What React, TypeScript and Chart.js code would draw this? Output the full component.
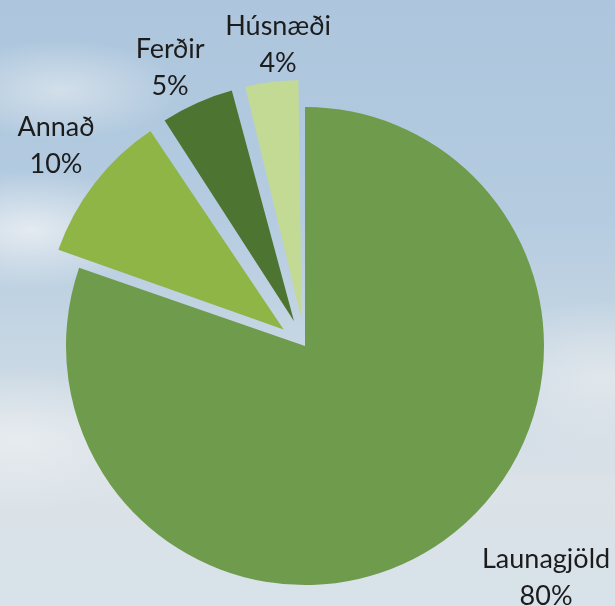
import React, { useEffect, useRef } from "react";
import { Chart, registerables } from "chart.js";

Chart.register(...registerables);

const categories = ["Launagjöld", "Annað", "Ferðir", "Húsnæði"];
const shares = [80.3, 10.4, 5.3, 4.0];
const shareLabels = ["80%", "10%", "5%", "4%"];
const sliceColors = ["#6e9b4c", "#8fb547", "#4e7432", "#c3da95"];
const explodePx = [0, 27, 27, 27];

const PIE_RADIUS = 239;

// label placement relative to the pie centre: [degrees clockwise from top, distance]
const labelPlacement = [
  [133.8, 334],
  [-51.1, 320],
  [-25.8, 310],
  [-5.1, 303],
];

const radiusFixPlugin = {
  id: "radiusFix",
  beforeDatasetsDraw(chart: any) {
    const meta = chart.getDatasetMeta(0);
    meta.data.forEach((arc: any) => {
      const off = (arc.options.offset || 0) / 4;
      const circ = arc.endAngle - arc.startAngle;
      const fix = 1 - Math.sin(Math.min(Math.PI, circ));
      arc.outerRadius = PIE_RADIUS - off * fix;
    });
  },
};

const labelPlugin = {
  id: "sliceLabels",
  afterDatasetsDraw(chart: any) {
    const ctx = chart.ctx;
    const meta = chart.getDatasetMeta(0);
    const base = meta.data[0];
    ctx.save();
    ctx.fillStyle = "#1c1c1c";
    ctx.font = "27px Lato, 'Open Sans', sans-serif";
    ctx.textAlign = "center";
    ctx.textBaseline = "middle";
    meta.data.forEach((_arc: any, i: number) => {
      const [deg, dist] = labelPlacement[i];
      const a = (deg * Math.PI) / 180;
      const cx = base.x + Math.sin(a) * dist;
      const cy = base.y - Math.cos(a) * dist;
      ctx.fillText(categories[i], cx, cy - 18);
      ctx.fillText(shareLabels[i], cx, cy + 19);
    });
    ctx.restore();
  },
};

export default function App() {
  const ref = useRef<HTMLCanvasElement>(null);
  useEffect(() => {
    document.body.style.margin = "0";
    const chart = new Chart(ref.current!, {
      type: "pie",
      data: {
        labels: categories,
        datasets: [
          {
            data: shares,
            backgroundColor: sliceColors,
            borderWidth: 0,
            offset: explodePx.map((p) => p * 4),
            hoverOffset: 0,
          },
        ],
      },
      options: {
        animation: false,
        responsive: false,
        rotation: 0,
        radius: PIE_RADIUS,
        layout: { padding: { left: 0, right: 5, top: 86, bottom: 0 } },
        plugins: { legend: { display: false }, tooltip: { enabled: false } },
        events: [],
      } as any,
      plugins: [radiusFixPlugin, labelPlugin],
    });
    return () => chart.destroy();
  }, []);

  const bg =
    "radial-gradient(ellipse 130px 60px at 30px 230px, rgba(236,240,243,0.85), rgba(236,240,243,0) 100%)," +
    "radial-gradient(ellipse 120px 50px at 60px 90px, rgba(225,233,239,0.7), rgba(225,233,239,0) 100%)," +
    "radial-gradient(ellipse 160px 70px at 20px 440px, rgba(233,237,240,0.9), rgba(233,237,240,0) 100%)," +
    "radial-gradient(ellipse 140px 80px at 600px 380px, rgba(228,233,237,0.85), rgba(228,233,237,0) 100%)," +
    "linear-gradient(180deg, #adc6dd 0%, #b4cbe0 35%, #c9d8e4 60%, #dbe2e8 80%, #d8e2ea 100%)";

  return (
    <div style={{ width: 615, height: 606, background: bg, position: "relative" }}>
      <canvas ref={ref} width={615} height={606} style={{ display: "block" }} />
    </div>
  );
}
